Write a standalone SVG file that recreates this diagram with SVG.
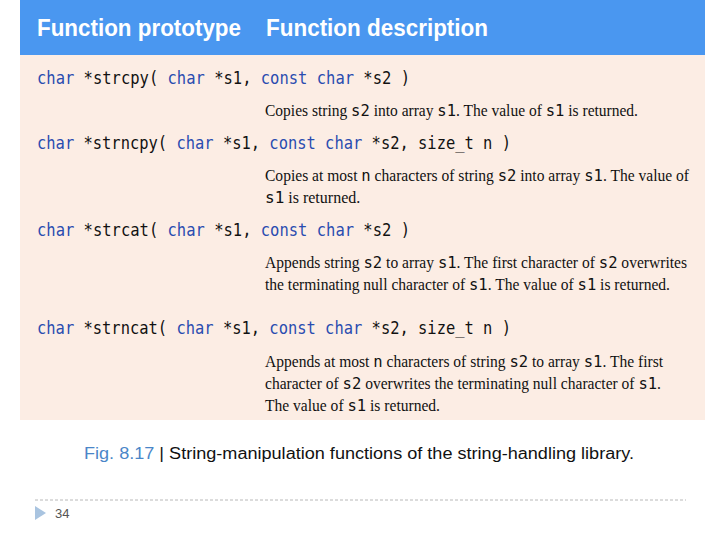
<svg xmlns="http://www.w3.org/2000/svg" width="720" height="540" viewBox="0 0 720 540">
<style>
.h{font-family:"Liberation Sans",Arial,sans-serif;font-size:24px;font-weight:bold;fill:#fff}
.c{font-family:"DejaVu Sans Mono","Liberation Mono",monospace;font-size:18px;fill:#111}
.k{fill:#2a4cb0}
.d{font-family:"Liberation Serif","Times New Roman",serif;font-size:16px;fill:#111}
.m{font-family:"DejaVu Sans Mono","Liberation Mono",monospace;font-size:16px}
</style>
<rect width="720" height="540" fill="#fff"/>
<g id="table">
<rect x="20" y="0" width="685" height="55" fill="#4a97f0"/>
<rect x="20" y="55" width="685" height="365" fill="#fcede4"/>
<text class="h" x="37" y="36" textLength="204" lengthAdjust="spacingAndGlyphs">Function prototype</text>
<text class="h" x="266" y="36" textLength="222" lengthAdjust="spacingAndGlyphs">Function description</text>
</g>
<g id="strcpy">
<text class="c" x="37" y="84" textLength="373" lengthAdjust="spacingAndGlyphs"><tspan class="k">char</tspan> *strcpy( <tspan class="k">char</tspan> *s1, <tspan class="k">const char</tspan> *s2 )</text>
<text class="d" x="265" y="116" textLength="373" lengthAdjust="spacingAndGlyphs">Copies string <tspan class="m">s2</tspan> into array <tspan class="m">s1</tspan>. The value of <tspan class="m">s1</tspan> is returned.</text>
</g>
<g id="strncpy">
<text class="c" x="37" y="149" textLength="474" lengthAdjust="spacingAndGlyphs"><tspan class="k">char</tspan> *strncpy( <tspan class="k">char</tspan> *s1, <tspan class="k">const char</tspan> *s2, size_t n )</text>
<text class="d" x="265" y="181" textLength="424" lengthAdjust="spacingAndGlyphs">Copies at most <tspan class="m">n</tspan> characters of string <tspan class="m">s2</tspan> into array <tspan class="m">s1</tspan>. The value of</text>
<text class="d" x="265" y="203"><tspan class="m">s1</tspan> is returned.</text>
</g>
<g id="strcat">
<text class="c" x="37" y="236" textLength="373" lengthAdjust="spacingAndGlyphs"><tspan class="k">char</tspan> *strcat( <tspan class="k">char</tspan> *s1, <tspan class="k">const char</tspan> *s2 )</text>
<text class="d" x="265" y="268" textLength="422" lengthAdjust="spacingAndGlyphs">Appends string <tspan class="m">s2</tspan> to array <tspan class="m">s1</tspan>. The first character of <tspan class="m">s2</tspan> overwrites</text>
<text class="d" x="265" y="290" textLength="405" lengthAdjust="spacingAndGlyphs">the terminating null character of <tspan class="m">s1</tspan>. The value of <tspan class="m">s1</tspan> is returned.</text>
</g>
<g id="strncat">
<text class="c" x="37" y="334" textLength="474" lengthAdjust="spacingAndGlyphs"><tspan class="k">char</tspan> *strncat( <tspan class="k">char</tspan> *s1, <tspan class="k">const char</tspan> *s2, size_t n )</text>
<text class="d" x="265" y="367" textLength="398" lengthAdjust="spacingAndGlyphs">Appends at most <tspan class="m">n</tspan> characters of string <tspan class="m">s2</tspan> to array <tspan class="m">s1</tspan>. The first</text>
<text class="d" x="265" y="389" textLength="396" lengthAdjust="spacingAndGlyphs">character of <tspan class="m">s2</tspan> overwrites the terminating null character of <tspan class="m">s1</tspan>.</text>
<text class="d" x="265" y="411" textLength="175" lengthAdjust="spacingAndGlyphs">The value of <tspan class="m">s1</tspan> is returned.</text>
</g>
<g id="caption">
<text x="84" y="459" font-family="Liberation Sans,Arial,sans-serif" font-size="16" fill="#111" textLength="550" lengthAdjust="spacingAndGlyphs"><tspan fill="#4a86c8">Fig. 8.17</tspan> | String-manipulation functions of the string-handling library.</text>
</g>
<g id="footer">
<line x1="35" y1="500" x2="686" y2="500" stroke="#b8b8b8" stroke-dasharray="3,2"/>
<polygon points="35,506 46,513 35,520" fill="#a9c4e0"/>
<text x="55" y="518" font-family="Liberation Sans,Arial,sans-serif" font-size="13" fill="#555">34</text>
</g>
</svg>
